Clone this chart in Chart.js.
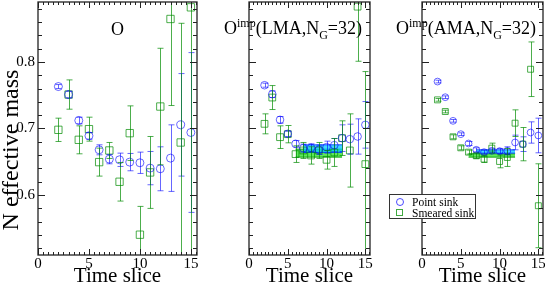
<!DOCTYPE html>
<html>
<head>
<meta charset="utf-8">
<script src="https://cdn.jsdelivr.net/npm/chart.js@4.4.1/dist/chart.umd.min.js"></script>
<style>
  html, body { margin: 0; padding: 0; background: #fff; overflow: hidden; }
  #wrap { position: relative; width: 545px; height: 285px; font-family: 'Liberation Serif', serif; color: #000; }
  canvas { position: absolute; top: 0; }
  .ttl { position: absolute; font-size: 18px; line-height: 18px; white-space: nowrap; }
  .ttl sup, .ttl sub { font-size: 12px; vertical-align: baseline; position: relative; line-height: 0; }
  .ttl sup { top: -7px; }
  .ttl sub { top: 5px; }
  #ytitle { position: absolute; left: -90px; top: 138px; width: 200px; height: 24px; line-height: 24px; font-size: 24px;
            text-align: center; white-space: nowrap; transform: rotate(-90deg); }
  #legend { position: absolute; left: 389px; top: 194px; width: 85px; height: 23px; border: 1px solid #333; background: #fff; font-size: 11.5px; line-height: 11.5px; }
  #legend div { position: absolute; left: 22px; white-space: nowrap; }
  #legend span { position: absolute; box-sizing: border-box; }
  .lg-circ { width: 8px; height: 8px; border: 1px solid rgba(0,0,255,0.7); border-radius: 50%; }
  .lg-sq { width: 7px; height: 7px; border: 1px solid rgba(0,140,0,0.75); }
</style>
</head>
<body>
<div id="wrap">
  <canvas id="c1" width="200" height="285" style="left:0px"></canvas>
  <canvas id="c2" width="172" height="285" style="left:203px"></canvas>
  <canvas id="c3" width="169" height="285" style="left:376px"></canvas>
  <div id="ytitle">N effective mass</div>
  <div class="ttl" style="left:111px; top:20px;">O</div>
  <div class="ttl" style="left:224px; top:19px;">O<sup>imp</sup>(LMA,N<sub>G</sub>=32)</div>
  <div class="ttl" style="left:396px; top:19px;">O<sup>imp</sup>(AMA,N<sub>G</sub>=32)</div>
  <div id="legend">
    <span class="lg-circ" style="left:6px; top:3px;"></span><div style="top:2px;">Point sink</div>
    <span class="lg-sq" style="left:6px; top:14px;"></span><div style="top:13px;">Smeared sink</div>
  </div>
</div>
<script>
// time slices shared by all panels
const timeSlices = [2, 3, 4, 5, 6, 7, 8, 9, 10, 11, 12, 13, 14, 15];
const xTicks = [0, 5, 10, 15];
const yTicks = [0.6, 0.7, 0.8];

// panel 1: O
const oPoint     = [0.763, 0.751, 0.712, 0.689, 0.668, 0.654, 0.653, 0.6495, 0.6485, 0.6405, 0.6395, 0.6555, 0.7055, 0.694];
const oPointErr  = [0.003, 0.005, 0.005, 0.005, 0.0075, 0.007, 0.010, 0.013, 0.016, 0.025, 0.033, 0.050, 0.077, 0.120];
const oSmear     = [0.698, 0.751, 0.683, 0.699, 0.6495, 0.667, 0.620, 0.693, 0.5405, 0.634, 0.733, 0.8645, 0.679, 0.882];
const oSmearErr  = [0.0175, 0.022, 0.021, 0.018, 0.021, 0.012, 0.029, 0.041, 0.0425, 0.054, 0.0875, 0.130, 0.179, 0.400];

// panel 2: O^imp (LMA)
const lmaPoint    = [0.765, 0.7515, 0.713, 0.692, 0.677, 0.6705, 0.671, 0.668, 0.672, 0.675, 0.6855, 0.684, 0.688, 0.7055];
const lmaPointErr = [0.003, 0.005, 0.005, 0.004, 0.005, 0.006, 0.006, 0.007, 0.009, 0.010, 0.020, 0.0225, 0.0265, 0.035];
const lmaSmear    = [0.707, 0.7465, 0.687, 0.6915, 0.6615, 0.667, 0.6595, 0.667, 0.653, 0.664, 0.6855, 0.667, 0.883, 0.6465];
const lmaSmearErr = [0.015, 0.018, 0.017, 0.013, 0.0125, 0.012, 0.013, 0.012, 0.014, 0.021, 0.026, 0.055, 0.082, 0.139];
const lmaPointFitRange = [7, 12];
const lmaPointFitBand  = [0.664, 0.6755];
const lmaSmearFitRange = [6, 12];
const lmaSmearFitBand  = [0.657, 0.669];

// panel 3: O^imp (AMA)
const amaPoint    = [0.7705, 0.747, 0.7115, 0.6915, 0.6775, 0.668, 0.6645, 0.6665, 0.666, 0.6665, 0.679, 0.6765, 0.694, 0.6895];
const amaPointErr = [0.002, 0.002, 0.002, 0.002, 0.003, 0.003, 0.003, 0.003, 0.004, 0.006, 0.011, 0.011, 0.016, 0.026];
const amaSmear    = [0.743, 0.7255, 0.6875, 0.671, 0.6645, 0.659, 0.654, 0.6705, 0.6505, 0.6565, 0.708, 0.6765, 0.789, 0.584];
const amaSmearErr = [0.002, 0.002, 0.003, 0.003, 0.003, 0.004, 0.005, 0.0075, 0.0095, 0.0135, 0.020, 0.025, 0.041, 0.063];
const amaPointFitRange = [7, 12];
const amaPointFitBand  = [0.663, 0.668];
const amaSmearFitRange = [6, 12];
const amaSmearFitBand  = [0.657, 0.662];

const BLUE = 'rgba(0, 0, 255, 0.6)';
const GREEN = 'rgba(0, 140, 0, 0.7)';

Chart.defaults.font.family = "'Liberation Serif', serif";
Chart.defaults.color = '#000';

// vertical error bars with small caps
const errorBars = {
    id: 'errorBars',
    afterDatasetsDraw(chart) {
        const { ctx, chartArea: a, scales } = chart;
        ctx.save();
        ctx.beginPath();
        ctx.rect(a.left, a.top, a.width, a.height);
        ctx.clip();
        chart.data.datasets.forEach(ds => {
            if (!ds.errors) return;
            ctx.strokeStyle = ds.borderColor;
            ctx.lineWidth = 1;
            ds.data.forEach((p, i) => {
                const px = Math.round(scales.x.getPixelForValue(p.x)) + 0.5;
                const top = scales.y.getPixelForValue(p.y + ds.errors[i]);
                const bot = scales.y.getPixelForValue(p.y - ds.errors[i]);
                ctx.beginPath();
                ctx.moveTo(px, top); ctx.lineTo(px, bot);
                ctx.moveTo(px - 3, top); ctx.lineTo(px + 3, top);
                ctx.moveTo(px - 3, bot); ctx.lineTo(px + 3, bot);
                ctx.stroke();
            });
        });
        ctx.restore();
    }
};

// box frame with inward ticks on all sides
const frame = {
    id: 'frame',
    afterDraw(chart) {
        const { ctx, chartArea: a, scales } = chart;
        ctx.save();
        ctx.strokeStyle = '#222';
        ctx.lineWidth = 1.3;
        ctx.strokeRect(a.left, a.top, a.width, a.height);
        ctx.lineWidth = 1;
        ctx.beginPath();
        for (let k = 0; k <= 31; k++) {
            const len = k % 10 === 0 ? 6 : 3;
            const px = Math.round(scales.x.getPixelForValue(k * 0.5)) + 0.5;
            ctx.moveTo(px, a.bottom); ctx.lineTo(px, a.bottom - len);
            ctx.moveTo(px, a.top); ctx.lineTo(px, a.top + len);
        }
        for (let k = 26; k <= 44; k++) {
            const len = k % 5 === 0 ? 7 : 4;
            const py = Math.round(scales.y.getPixelForValue(k * 0.02)) + 0.5;
            ctx.moveTo(a.left, py); ctx.lineTo(a.left + len, py);
            ctx.moveTo(a.right, py); ctx.lineTo(a.right - len, py);
        }
        ctx.stroke();
        ctx.restore();
    }
};

function points(vals) {
    return timeSlices.map((t, i) => ({ x: t, y: vals[i] }));
}

function band(range, lims, edge, fillColor, order) {
    return [
        { type: 'line', data: range.map(t => ({ x: t, y: lims[0] })), borderColor: edge, borderWidth: 1,
          pointRadius: 0, fill: false, order: order },
        { type: 'line', data: range.map(t => ({ x: t, y: lims[1] })), borderColor: edge, borderWidth: 1,
          pointRadius: 0, fill: '-1', backgroundColor: fillColor, order: order }
    ];
}

function noPad(s) {
    s.paddingTop = 0; s.paddingBottom = 0; s.paddingLeft = 0; s.paddingRight = 0;
}

function makePanel(id, opts) {
    const datasets = [
        { label: 'Point sink', data: points(opts.point), errors: opts.pointErr, borderColor: BLUE,
          backgroundColor: 'transparent', pointStyle: 'circle', pointRadius: opts.circR, borderWidth: 1, order: 0 },
        { label: 'Smeared sink', data: points(opts.smear), errors: opts.smearErr, borderColor: GREEN,
          backgroundColor: 'transparent', pointStyle: 'rect', pointRadius: opts.rectR, borderWidth: 1, order: 1 }
    ];
    if (opts.pointBand) {
        datasets.push(...band(opts.pointBand[0], opts.pointBand[1], 'rgba(0, 60, 255, 0.85)', 'rgba(0, 200, 255, 0.75)', 2));
        datasets.push(...band(opts.smearBand[0], opts.smearBand[1], 'rgba(0, 150, 0, 0.85)', 'rgba(40, 225, 40, 0.75)', 3));
    }
    return new Chart(document.getElementById(id), {
        type: 'scatter',
        data: { datasets },
        plugins: [errorBars, frame],
        options: {
            responsive: false,
            animation: false,
            devicePixelRatio: 1,
            layout: { padding: opts.padding, autoPadding: false },
            plugins: { legend: { display: false }, tooltip: { enabled: false } },
            scales: {
                x: {
                    type: 'linear', min: 0, max: 15.6,
                    grid: { display: false, drawTicks: false },
                    border: { display: false },
                    afterBuildTicks: s => { s.ticks = xTicks.map(v => ({ value: v })); },
                    afterFit: s => { s.height = 30; noPad(s); },
                    ticks: { font: { size: 15 }, padding: 0, maxRotation: 0, callback: v => String(v) },
                    title: { display: true, text: 'Time slice', font: { size: 21, lineHeight: 1 }, padding: { top: 0, bottom: -2 } }
                },
                y: {
                    type: 'linear', min: 0.51, max: 0.89,
                    display: opts.showY,
                    grid: { display: false, drawTicks: false },
                    border: { display: false },
                    afterBuildTicks: s => { s.ticks = yTicks.map(v => ({ value: v })); },
                    afterFit: s => { s.width = 38; noPad(s); },
                    ticks: { font: { size: 15 }, padding: 3, callback: v => v.toFixed(1) }
                }
            }
        }
    });
}

makePanel('c1', { point: oPoint, pointErr: oPointErr, smear: oSmear, smearErr: oSmearErr,
    circR: 4, rectR: 5.2, showY: true, padding: { left: 0, right: 3, top: 2, bottom: 0 } });
makePanel('c2', { point: lmaPoint, pointErr: lmaPointErr, smear: lmaSmear, smearErr: lmaSmearErr,
    pointBand: [lmaPointFitRange, lmaPointFitBand], smearBand: [lmaSmearFitRange, lmaSmearFitBand],
    circR: 3.8, rectR: 4.8, showY: false, padding: { left: 8, right: 5, top: 2, bottom: 0 } });
makePanel('c3', { point: amaPoint, pointErr: amaPointErr, smear: amaSmear, smearErr: amaSmearErr,
    pointBand: [amaPointFitRange, amaPointFitBand], smearBand: [amaSmearFitRange, amaSmearFitBand],
    circR: 3.4, rectR: 4.2, showY: false, padding: { left: 8, right: 2, top: 2, bottom: 0 } });
</script>
</body>
</html>
